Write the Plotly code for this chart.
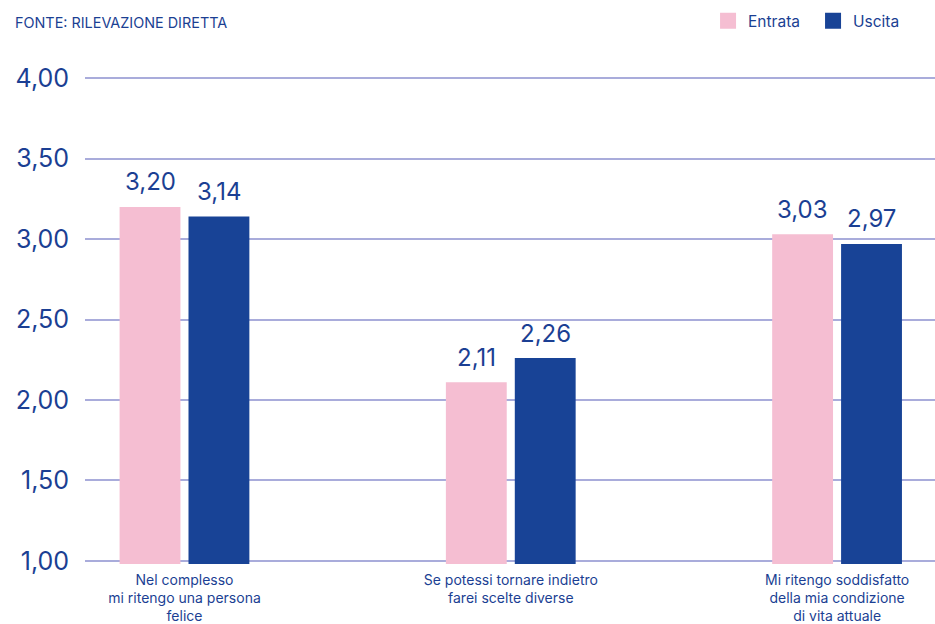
import plotly.graph_objects as go

categories = [
    "Nel complesso<br>mi ritengo una persona<br>felice",
    "Se potessi tornare indietro<br>farei scelte diverse",
    "Mi ritengo soddisfatto<br>della mia condizione<br>di vita attuale",
]
entrata = [3.20, 2.11, 3.03]
uscita = [3.14, 2.26, 2.97]
series_names = ["Entrata", "Uscita"]
tick_vals = [1.0, 1.5, 2.0, 2.5, 3.0, 3.5, 4.0]
source_text = "FONTE: RILEVAZIONE DIRETTA"

PINK = "#f5bed2"
BLUE = "#184396"
TEXT = "#1b3f93"
GRID = "#a9acdb"
FONT = "Inter"

BAR_W = 0.1865
OFFSETS = [-0.199, 0.0122]

def fmt(v):
    return f"{v:.2f}".replace(".", ",")

fig = go.Figure()
for vals, name, color, off in zip([entrata, uscita], series_names, [PINK, BLUE], OFFSETS):
    fig.add_trace(go.Bar(
        x=categories, y=vals, name=name, showlegend=False,
        marker=dict(color=color, line=dict(width=0)),
        width=BAR_W, offset=off, hoverinfo="skip",
    ))
    # legend-only entry with a larger square swatch
    fig.add_trace(go.Scatter(
        x=[None], y=[None], mode="markers", name=name,
        marker=dict(symbol="square", size=17, color=color),
        hoverinfo="skip",
    ))

annotations = []
for vals, off in zip([entrata, uscita], OFFSETS):
    for i, v in enumerate(vals):
        annotations.append(dict(
            x=i + off + BAR_W / 2, y=v, xref="x", yref="y",
            text=fmt(v), showarrow=False, yanchor="middle", yshift=25,
            font=dict(family=FONT, size=24, color=TEXT),
        ))
annotations.append(dict(
    text=source_text, xref="paper", yref="paper",
    x=-0.0847, y=1.108, xanchor="left", yanchor="middle",
    showarrow=False, font=dict(family=FONT, size=14.4, color=TEXT),
))

fig.update_layout(
    width=935, height=624,
    margin=dict(l=85, r=0, t=75, b=60, autoexpand=False),
    paper_bgcolor="white", plot_bgcolor="white",
    separators=",.",
    font=dict(family=FONT, color=TEXT),
    showlegend=True,
    legend=dict(
        orientation="h", x=0.733, xanchor="left", y=1.110, yanchor="middle",
        font=dict(family=FONT, size=15.5, color=TEXT),
        itemwidth=30, entrywidth=60, traceorder="normal",
        bgcolor="rgba(0,0,0,0)", itemsizing="trace",
    ),
    xaxis=dict(
        type="category", range=[-0.305, 2.3],
        showgrid=False, zeroline=False, showline=False,
        ticks="outside", ticklen=3, tickcolor="rgba(0,0,0,0)",
        tickfont=dict(family=FONT, size=14, color=TEXT),
    ),
    yaxis=dict(
        range=[0.98, 4.02], tickvals=tick_vals, tickformat=".2f",
        showgrid=True, gridcolor=GRID, gridwidth=1.5,
        zeroline=False, showline=False,
        ticks="outside", ticklen=10, tickcolor="rgba(0,0,0,0)",
        tickfont=dict(family=FONT, size=25, color=TEXT),
    ),
    annotations=annotations,
)

fig.write_html(
    "out.html",
    config={"displayModeBar": False},
    post_script="document.body.style.margin='0';document.body.style.overflow='hidden';",
)
